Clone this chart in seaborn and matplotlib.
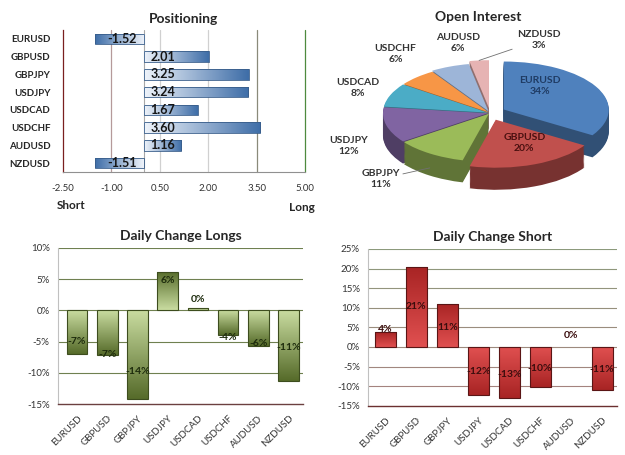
import numpy as np
import pandas as pd
import matplotlib
matplotlib.use("Agg")
import matplotlib.pyplot as plt
from matplotlib.colors import LinearSegmentedColormap, to_rgb
import seaborn as sns

pairs = ["EURUSD", "GBPUSD", "GBPJPY", "USDJPY", "USDCAD", "USDCHF", "AUDUSD", "NZDUSD"]
positioning = [-1.52, 2.01, 3.25, 3.24, 1.67, 3.60, 1.16, -1.51]
pos_ticks = [-2.5, -1.0, 0.5, 2.0, 3.5, 5.0]
open_interest = [34, 20, 11, 12, 8, 6, 6, 3]
longs_change = [-7.0, -7.2, -14.2, 6.2, 0.4, -4.0, -5.7, -11.3]
longs_labels = ["-7%", "-7%", "-14%", "6%", "0%", "-4%", "-6%", "-11%"]
short_change = [3.8, 20.4, 11.0, -12.2, -13.1, -10.2, 0.0, -10.9]
short_labels = ["4%", "21%", "11%", "-12%", "-13%", "-10%", "0%", "-11%"]

# styling
pie_colors = ["#4f81bd", "#c0504d", "#9bbb59", "#8064a2", "#4bacc6", "#f79646", "#9db5d8", "#e6b3b3"]
pie_explode = [0.15, 0.15, 0.02, 0.02, 0.02, 0.02, 0.04, 0.1]
pie_label_turn = [26, 8, -3, 13, -1, -7, -10, -24]
pie_label_r = [0.6, 0.55, 1.7, 1.5, 1.34, 1.5, 1.45, 1.5]
pie_label_col = ["#1f3b63", "#4a1010"] + ["#333333"] * 6
grid_cols_pos = ["#7a1f1f", "#b59a9a", "#d0d0d0", "#d0d0d0", "#8a8a7a", "#4e8a3e"]
longs_frac = [0.71, 0.98, 0.69, 0.77, 1.0, 1.08, 0.92, 0.52]
longs_dy = [0, 0, 0, 0, 6, 0, 0, 0]
short_frac = [1.2, 0.5, 0.46, 0.52, 0.54, 0.53, 1.0, 0.53]
short_dy = [0, 0, 0, 0, 0, 0, 8, 0]


def fill_gradient(ax, light, dark, horizontal=False):
    cmap = LinearSegmentedColormap.from_list("g", [light, dark])
    ramp = np.linspace(0, 1, 64)
    for bar in list(ax.patches):
        x, y = bar.get_xy()
        w, h = bar.get_width(), bar.get_height()
        if w == 0 or h == 0:
            bar.set_visible(False)
            continue
        if horizontal:
            img = ramp[None, :] if w >= 0 else ramp[None, ::-1]
            ext = (min(x, x + w), max(x, x + w), min(y, y + h), max(y, y + h))
        else:
            img = ramp[:, None] if h >= 0 else ramp[::-1, None]
            ext = (x, x + w, min(y, y + h), max(y, y + h))
        im = ax.imshow(img, cmap=cmap, extent=ext, origin="lower", aspect="auto",
                       zorder=2, interpolation="bilinear")
        im.set_clip_path(bar)
        bar.set_facecolor("none")
        bar.set_zorder(3)


def positioning_plot(fig):
    ax = fig.add_axes([0.1008, 0.622, 0.3872, 0.3121])
    df = pd.DataFrame({"pair": pairs, "value": positioning})
    sns.barplot(data=df, x="value", y="pair", orient="h", ax=ax, color="#6f93c4",
                width=0.58, errorbar=None, edgecolor="#385d8a", linewidth=0.6)
    ax.set_xlim(-2.5, 5.0)
    ax.set_ylim(len(pairs) - 0.5, -0.5)
    for t, c in zip(pos_ticks[1:], grid_cols_pos[1:]):
        ax.axvline(t, color=c, lw=0.9, zorder=0.5, clip_on=False)
    ax.axvline(0, color="#a8a8a8", lw=0.8, zorder=0.6)
    fill_gradient(ax, "#eef3fa", "#3f6ea8", horizontal=True)
    for i, v in enumerate(positioning):
        ax.annotate(f"{v:.2f}", (0, i), xytext=(5 if v > 0 else -5, 0), textcoords="offset points",
                    ha="left" if v > 0 else "right", va="center", fontsize=9,
                    fontweight="bold", color="#151515", zorder=5)
    ax.set_xticks(pos_ticks)
    ax.set_xticklabels([f"{t:.2f}" for t in pos_ticks])
    ax.tick_params(axis="x", length=3, color="#909090", labelsize=7, pad=6, labelcolor="#333333")
    ax.tick_params(axis="y", length=0, labelsize=7, pad=9)
    for lab in ax.get_yticklabels():
        lab.set_fontweight("bold")
    ax.set_xlabel("")
    ax.set_ylabel("")
    for s in ["top", "right"]:
        ax.spines[s].set_visible(False)
    ax.spines["left"].set_color(grid_cols_pos[0])
    ax.spines["left"].set_linewidth(0.9)
    ax.spines["bottom"].set_color("#909090")
    ax.spines["bottom"].set_linewidth(0.8)
    ax.set_title("Positioning", fontsize=10, fontweight="bold", pad=5)
    fig.text(0.114, 0.549, "Short", fontsize=8.5, fontweight="bold", ha="center", va="center")
    fig.text(0.483, 0.543, "Long", fontsize=8.5, fontweight="bold", ha="center", va="center")


def open_interest_plot(fig):
    ax = fig.add_axes([0.576, 0.5604, 0.424, 0.3516])
    sides = [tuple(0.62 * c for c in to_rgb(col)) for col in pie_colors]
    layers = 20
    for k in range(layers, 0, -1):
        ax.pie(open_interest, colors=sides, startangle=90, counterclock=False,
               explode=pie_explode, center=(0, -0.023 * k),
               wedgeprops=dict(linewidth=0, edgecolor="none"))
    wedges, _ = ax.pie(open_interest, colors=pie_colors, startangle=90, counterclock=False,
                       explode=pie_explode, wedgeprops=dict(linewidth=0, edgecolor="none"))
    ax.set_aspect("auto")
    ax.set_xlim(-1.238, 1.286)
    ax.set_ylim(-1.8125, 1.52)
    for i, w in enumerate(wedges):
        mid = np.deg2rad((w.theta1 + w.theta2) / 2)
        ang = mid + np.deg2rad(pie_label_turn[i])
        cx, cy = w.center
        lx = cx + pie_label_r[i] * np.cos(ang)
        ly = cy + pie_label_r[i] * np.sin(ang)
        ax.text(lx, ly, f"{pairs[i]}\n{open_interest[i]}%", ha="center", va="center",
                fontsize=7.5, fontweight="bold", color=pie_label_col[i], linespacing=1.3)
        if i in (2, 7):
            sx = cx + 1.0 * np.cos(mid)
            sy = cy + 1.0 * np.sin(mid) - (0.3 if i == 2 else 0)
            ex = sx + 0.55 * (lx - sx)
            ey = sy + 0.55 * (ly - sy)
            ax.plot([sx, ex], [sy, ey], color="#707070", lw=0.6, clip_on=False)
    fig.text(0.765, 0.963, "Open Interest", fontsize=10, fontweight="bold", ha="center", va="center")


def change_plot(fig, rect, values, labels, fracs, dys, title, ylim, light, dark,
                edge, grid_top, grid_bot, base_col, text_col, xlim):
    ax = fig.add_axes(rect)
    df = pd.DataFrame({"pair": pairs, "value": values})
    sns.barplot(data=df, x="pair", y="value", ax=ax, color=light, width=0.68,
                errorbar=None, edgecolor=edge, linewidth=0.8)
    ax.set_xlim(*xlim)
    ax.set_ylim(*ylim)
    ticks = np.arange(ylim[0], ylim[1] + 1, 5)
    ax.set_yticks(ticks)
    ax.set_yticklabels([f"{t:.0f}%" for t in ticks])
    gcmap = LinearSegmentedColormap.from_list("grid", [grid_bot, grid_top])
    for t in ticks[1:]:
        ax.axhline(t, color=gcmap((t - ylim[0]) / (ylim[1] - ylim[0])), lw=0.8, zorder=0.5)
    fill_gradient(ax, light, dark)
    for i, (v, lab) in enumerate(zip(values, labels)):
        ax.annotate(lab, (i, v * fracs[i]), xytext=(0, dys[i]), textcoords="offset points",
                    ha="center", va="center", fontsize=7.5, fontweight="bold",
                    color=text_col, zorder=5)
    ax.set_xticks(range(len(pairs)))
    ax.set_xticklabels(pairs, rotation=45, ha="right", rotation_mode="anchor")
    ax.tick_params(axis="x", length=0, labelsize=7, pad=7, labelcolor="#333333")
    ax.tick_params(axis="y", length=3, color="#8a8a8a", labelsize=7, pad=3, labelcolor="#333333")
    ax.set_xlabel("")
    ax.set_ylabel("")
    for s in ["top", "right"]:
        ax.spines[s].set_visible(False)
    ax.spines["left"].set_color("#c0c0c0")
    ax.spines["left"].set_linewidth(0.8)
    ax.spines["bottom"].set_color(base_col)
    ax.spines["bottom"].set_linewidth(1.0)
    ax.set_title(title, fontsize=10, fontweight="bold", pad=6)


def main():
    sns.set_theme(style="white")
    plt.rcParams["font.family"] = ["Lato", "DejaVu Sans"]
    fig = plt.figure(figsize=(6.25, 4.55), dpi=100)
    fig.patch.set_facecolor("white")

    positioning_plot(fig)
    open_interest_plot(fig)
    change_plot(fig, [0.0928, 0.112, 0.392, 0.343], longs_change, longs_labels,
                longs_frac, longs_dy, "Daily Change Longs", (-15, 10),
                "#c9dca0", "#566b2a", "#3d4d1e", "#6f8050", "#6f8050", "#6b4040",
                "#1d2b0c", (-0.63, 7.48))
    change_plot(fig, [0.589, 0.108, 0.398, 0.345], short_change, short_labels,
                short_frac, short_dy, "Daily Change Short", (-15, 25),
                "#e05050", "#a82424", "#5a1515", "#8c9a7c", "#a88080", "#6b3030",
                "#3a0d0d", (-0.56, 7.48))

    fig.savefig("out.png", dpi=100)
    plt.close(fig)


if __name__ == "__main__":
    main()
